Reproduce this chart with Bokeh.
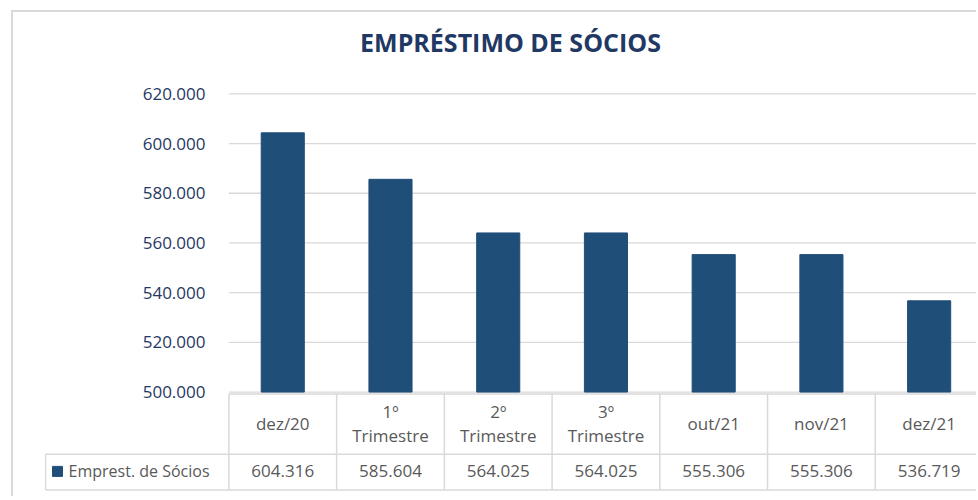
from bokeh.plotting import figure
from bokeh.models import Range1d, FixedTicker, CustomJSTickFormatter
from bokeh.embed import file_html
from bokeh.resources import INLINE
from bokeh.core.properties import value

# ---- data ----
categories = ["dez/20", "1º\nTrimestre", "2º\nTrimestre", "3º\nTrimestre", "out/21", "nov/21", "dez/21"]
values = [604316, 585604, 564025, 564025, 555306, 555306, 536719]
series_name = "Emprest. de Sócios"
y_ticks = [500000, 520000, 540000, 560000, 580000, 600000, 620000]
title_text = "EMPRÉSTIMO DE SÓCIOS"

# ---- styles ----
BAR = "#1F4E79"
NAVY = "#1F3864"
GRID = "#D9D9D9"
TXT = "#595959"
FONT = "Open Sans"

OFF_X, OFF_Y = 13, 12                 # chart-area border offset on the page
W, H = 978 - OFF_X - 2, 500 - OFF_Y - 4
LEFT = 44 - OFF_X                     # frame offset inside the figure
n = len(categories)
xs = list(range(n))
COL_PX = 107.5                        # one category column, in pixels
x_start = -0.5 - (228 - 44) / COL_PX
x_end = x_start + (W - LEFT) / COL_PX # the last column is cut by the right edge
leg_left = x_start + 1 / COL_PX       # left edge of the legend cell

ZERO_Y = 390 - OFF_Y                  # pixel row of the 500.000 line inside the figure
PLOT_H = 297                          # pixel height of the value area
TABLE_H = H - ZERO_Y                  # pixel height below the 500.000 line
per_px = (y_ticks[-1] - y_ticks[0]) / PLOT_H
y_lo = y_ticks[0] - per_px * TABLE_H
y_hi = y_ticks[0] + per_px * ZERO_Y

def fmt(v):
    return f"{v:,}".replace(",", ".")

p = figure(width=W, height=H,
           x_range=Range1d(x_start, x_end), y_range=Range1d(y_lo, y_hi),
           output_backend="svg", toolbar_location=None,
           min_border_left=LEFT, min_border_right=0, min_border_top=0, min_border_bottom=0)
p.margin = (OFF_Y - 2, 0, 0, OFF_X - 2)
p.styles = {"border-left": "2px solid #D9D9D9", "border-top": "2px solid #D9D9D9",
            "box-sizing": "content-box"}
# layout coordinates: pixels below the 500.000 line, growing downward
p.extra_y_ranges = {"tbl": Range1d(TABLE_H, -ZERO_Y)}

p.xaxis.visible = False
p.grid.visible = False
p.outline_line_color = None

p.yaxis.ticker = FixedTicker(ticks=y_ticks)
p.yaxis.formatter = CustomJSTickFormatter(
    code="return Math.round(tick).toString().replace(/\\B(?=(\\d{3})+(?!\\d))/g, '.');")
p.yaxis.axis_line_color = None
p.yaxis.major_tick_line_color = None
p.yaxis.minor_tick_line_color = None
p.yaxis.major_label_text_font = FONT
p.yaxis.major_label_text_font_size = "17px"
p.yaxis.major_label_text_color = NAVY
p.yaxis.major_label_standoff = -167   # labels sit to the left of the value area

# title
p.text(x=[x_start + (509 - 44) / COL_PX], y=[41 - 390], text=[title_text],
       text_align="center", text_baseline="middle", text_font=value(FONT),
       text_font_size="25px", text_font_style="bold", text_color=NAVY, y_range_name="tbl")

# gridlines over the value area only
p.segment(x0=[-0.5] * len(y_ticks), x1=[x_end] * len(y_ticks), y0=y_ticks, y1=y_ticks,
          line_color=GRID, line_width=1.3)

p.vbar(x=xs, top=values, bottom=y_ticks[0], width=0.4, fill_color=BAR, line_color=BAR)

# ---- data table ----
head_top, row_top, row_bot = 2, 62, 97.5
p.segment(x0=[-0.5, leg_left, leg_left], y0=[head_top, row_top, row_bot],
          x1=[n - 0.5] * 3, y1=[head_top, row_top, row_bot],
          line_color=GRID, line_width=1.5, y_range_name="tbl")
p.segment(x0=[i - 0.5 for i in range(n + 1)] + [leg_left],
          y0=[head_top] * (n + 1) + [row_top],
          x1=[i - 0.5 for i in range(n + 1)] + [leg_left],
          y1=[row_bot] * (n + 2),
          line_color=GRID, line_width=1.5, y_range_name="tbl")
p.text(x=xs, y=[31] * n, text=categories, text_align="center", text_baseline="middle",
       text_font=value(FONT), text_font_size="17px", text_color=TXT, text_line_height=1.03,
       y_range_name="tbl")
p.text(x=xs, y=[79] * n, text=[fmt(v) for v in values], text_align="center",
       text_baseline="middle", text_font=value(FONT), text_font_size="17px", text_color=TXT,
       y_range_name="tbl")
p.scatter(x=[leg_left + 12 / COL_PX], y=[79], marker="square", size=10,
          fill_color=BAR, line_color=BAR, y_range_name="tbl")
p.text(x=[leg_left + 23 / COL_PX], y=[79], text=[series_name], text_align="left",
       text_baseline="middle", text_font=value(FONT), text_font_size="16px", text_color=TXT,
       y_range_name="tbl")

open("out.html", "w").write(file_html(p, INLINE))
